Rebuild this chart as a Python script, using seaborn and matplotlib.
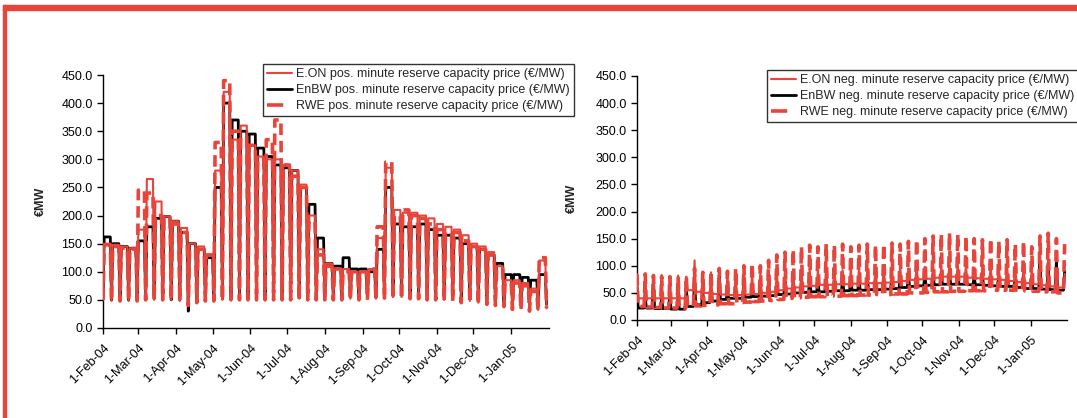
import numpy as np
import pandas as pd
import matplotlib
matplotlib.use("Agg")
import matplotlib.pyplot as plt
from matplotlib.patches import Rectangle
import seaborn as sns

# weekly levels (week k starts Monday 26-Jan-04 + 7k), working-day level / Sunday level
# positive minute reserve (working days high, Sunday low)
eon_pos_wd = [150, 150, 148, 145, 142, 175, 265, 225, 198, 190, 178, 150, 145, 130, 280, 420, 335, 360,
              325, 305, 300, 300, 290, 280, 255, 200, 140, 115, 105, 105, 100, 100, 105, 160, 285, 210,
              205, 205, 200, 195, 185, 180, 175, 165, 150, 145, 135, 110, 85, 85, 80, 70, 120]
eon_pos_we = [50, 48, 48, 48, 48, 50, 50, 50, 50, 48, 40, 45, 48, 48, 50, 52, 52, 52,
              52, 52, 52, 52, 52, 52, 52, 52, 52, 52, 52, 52, 52, 52, 52, 52, 55, 55,
              55, 55, 52, 52, 50, 50, 48, 48, 45, 45, 42, 40, 35, 35, 33, 32, 35]
enbw_pos_wd = [160, 162, 150, 145, 142, 155, 180, 195, 198, 190, 170, 150, 140, 125, 250, 400, 370, 350,
               345, 320, 305, 290, 285, 280, 250, 220, 160, 115, 110, 125, 105, 105, 100, 140, 250, 185,
               180, 180, 185, 175, 165, 165, 160, 150, 145, 140, 130, 115, 95, 95, 90, 85, 95]
enbw_pos_we = [55, 50, 50, 50, 50, 52, 52, 52, 50, 50, 30, 45, 50, 50, 52, 55, 55, 55,
               55, 55, 55, 55, 55, 55, 55, 55, 55, 55, 55, 55, 55, 55, 55, 55, 58, 58,
               58, 58, 55, 55, 55, 55, 52, 52, 50, 50, 48, 45, 42, 42, 40, 40, 42]
rwe_pos_wd = [150, 148, 145, 142, 140, 245, 240, 200, 195, 185, 170, 140, 140, 130, 330, 440, 350, 340,
              325, 300, 335, 370, 290, 270, 250, 190, 130, 110, 105, 100, 100, 100, 105, 180, 295, 200,
              210, 200, 195, 185, 175, 170, 170, 155, 145, 140, 130, 105, 80, 80, 75, 65, 125]
rwe_pos_we = [50, 48, 48, 48, 48, 50, 50, 50, 50, 48, 40, 45, 48, 48, 50, 50, 50, 50,
              50, 50, 50, 50, 50, 50, 50, 50, 50, 50, 50, 50, 50, 50, 50, 50, 52, 52,
              52, 52, 50, 50, 48, 48, 45, 45, 42, 42, 40, 38, 33, 32, 30, 30, 35]

# negative minute reserve (working days low, Sunday high)
eon_neg_wd = [40, 40, 40, 40, 40, 40, 40, 55, 52, 50, 48, 47, 46, 46, 47, 48, 50, 52,
              55, 58, 60, 62, 63, 65, 65, 66, 66, 67, 67, 68, 68, 69, 70, 72, 74, 75,
              76, 78, 80, 80, 80, 78, 77, 76, 75, 74, 72, 70, 68, 66, 64, 62, 60]
eon_neg_we = [85, 85, 83, 83, 80, 82, 80, 110, 85, 88, 90, 85, 88, 90, 88, 85, 88, 90,
              88, 90, 92, 95, 92, 95, 95, 92, 95, 95, 92, 95, 95, 96, 98, 95, 100, 98,
              100, 98, 102, 100, 98, 96, 98, 96, 94, 96, 92, 95, 90, 92, 90, 92, 85]
enbw_neg_wd = [22, 22, 22, 21, 21, 20, 20, 25, 28, 32, 35, 38, 40, 40, 42, 43, 44, 45,
               47, 48, 50, 51, 52, 52, 53, 54, 54, 55, 55, 56, 56, 57, 58, 60, 62, 63,
               64, 65, 66, 66, 66, 65, 65, 64, 63, 62, 62, 60, 58, 58, 57, 56, 55]
enbw_neg_we = [60, 42, 76, 40, 42, 40, 60, 80, 50, 55, 83, 55, 60, 78, 65, 65, 70, 68,
               72, 70, 72, 75, 72, 75, 74, 75, 76, 75, 78, 76, 78, 80, 80, 82, 80, 82,
               84, 82, 85, 84, 82, 80, 82, 80, 78, 80, 78, 85, 80, 110, 105, 110, 90]
rwe_neg_wd = [25, 25, 24, 23, 22, 22, 22, 25, 26, 27, 28, 30, 30, 32, 33, 34, 35, 36,
              38, 40, 41, 42, 43, 43, 44, 44, 45, 45, 46, 46, 47, 47, 48, 48, 50, 50,
              51, 52, 52, 53, 53, 54, 54, 54, 55, 55, 55, 55, 54, 53, 52, 52, 50]
rwe_neg_we = [85, 85, 82, 80, 80, 78, 80, 95, 88, 90, 95, 90, 95, 100, 105, 100, 110, 120,
              125, 130, 135, 138, 135, 140, 138, 140, 135, 138, 140, 138, 140, 142, 140, 145, 148, 150,
              155, 158, 160, 158, 155, 150, 148, 150, 145, 148, 140, 145, 135, 155, 160, 150, 140]

pos_labels = ["E.ON pos. minute reserve capacity price (€/MW)",
              "EnBW pos. minute reserve capacity price (€/MW)",
              "RWE pos. minute reserve capacity price (€/MW)"]
neg_labels = ["E.ON neg. minute reserve capacity price (€/MW)",
              "EnBW neg. minute reserve capacity price (€/MW)",
              "RWE neg. minute reserve capacity price (€/MW)"]

dates = pd.date_range("2004-02-01", "2005-01-30", freq="D")
week = np.asarray((dates - pd.Timestamp("2004-01-26")).days // 7)
sunday = np.asarray(dates.dayofweek == 6)


def daily(wd, we):
    return np.where(sunday, np.array(we)[week], np.array(wd)[week])


sns.set_theme(style="ticks")
plt.rcParams["font.family"] = ["Liberation Sans", "DejaVu Sans"]

RED = "#E8443A"

fig = plt.figure(figsize=(10.77, 4.18), dpi=100)
W, H = 1077, 418

# red frame on the left and top
fig.patches.append(Rectangle((3 / W, 0), 3 / W, 1 - 5 / H, transform=fig.transFigure, color=RED, zorder=0))
fig.patches.append(Rectangle((3 / W, 1 - 10 / H), 1, 5 / H, transform=fig.transFigure, color=RED, zorder=0))

ax1 = fig.add_axes([103 / W, 1 - 328 / H, 446 / W, 253 / H])
ax2 = fig.add_axes([637 / W, 1 - 320 / H, 430 / W, 244 / H])


def draw(ax, series, labels, leg_xy):
    styles = [dict(color=RED, lw=1.5, zorder=3),
              dict(color="black", lw=2.0, zorder=2),
              dict(color=RED, lw=2.6, dashes=(3.2, 1.6), zorder=4)]
    for (wd, we), lab, st in zip(series, labels, styles):
        sns.lineplot(x=dates, y=daily(wd, we), ax=ax, label=lab, **st)
    ax.set_ylim(0, 450)
    ax.set_yticks(np.arange(0, 451, 50))
    ax.yaxis.set_major_formatter(matplotlib.ticker.FormatStrFormatter("%.1f"))
    ax.set_xlim(pd.Timestamp("2004-02-01"), pd.Timestamp("2005-02-01"))
    months = pd.date_range("2004-02-01", "2005-01-01", freq="MS")
    ax.set_xticks(months)
    ax.set_xticklabels([f"{d.day}-{d.strftime('%b-%y')}" for d in months],
                       rotation=45, ha="right", rotation_mode="anchor")
    ax.tick_params(axis="both", labelsize=9, length=4, width=1, colors="black", direction="out")
    ax.tick_params(axis="x", pad=6)
    for s in ["top", "right"]:
        ax.spines[s].set_visible(False)
    for s in ["left", "bottom"]:
        ax.spines[s].set_color("black")
        ax.spines[s].set_linewidth(1)
    ax.set_xlabel("")
    ax.set_ylabel("€MW", fontsize=9, fontweight="bold")
    leg = ax.legend(loc="upper left", bbox_to_anchor=(leg_xy[0] / W, 1 - leg_xy[1] / H),
                    bbox_transform=fig.transFigure, fontsize=9, frameon=True, fancybox=False,
                    handlelength=2.0, handletextpad=0.3, labelspacing=0.3, borderpad=0.35,
                    borderaxespad=0)
    leg.get_frame().set_edgecolor("black")
    leg.get_frame().set_linewidth(1)
    leg.get_lines()[2].set_dashes((4.5, 10))


draw(ax1, [(eon_pos_wd, eon_pos_we), (enbw_pos_wd, enbw_pos_we), (rwe_pos_wd, rwe_pos_we)],
     pos_labels, (263, 64))
draw(ax2, [(eon_neg_wd, eon_neg_we), (enbw_neg_wd, enbw_neg_we), (rwe_neg_wd, rwe_neg_we)],
     neg_labels, (767, 70))
ax1.yaxis.set_label_coords(-0.125, 0.5)
ax2.yaxis.set_label_coords(-0.137, 0.5)

fig.savefig("out.png", dpi=100, facecolor="white")
